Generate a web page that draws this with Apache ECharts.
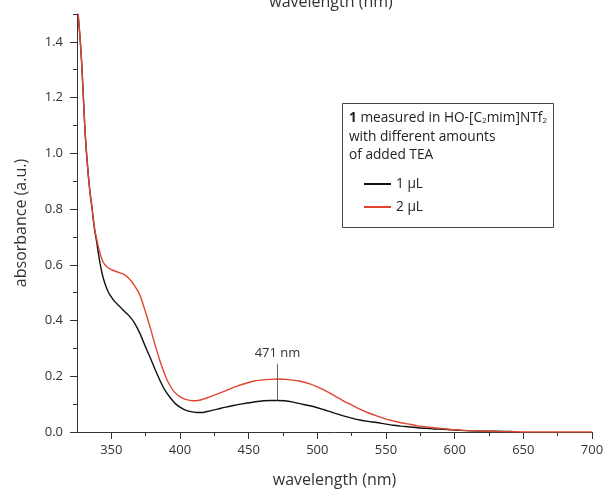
<!DOCTYPE html>
<html>
<head>
<meta charset="utf-8">
<script src="https://cdn.jsdelivr.net/npm/echarts@6/dist/echarts.min.js"></script>
<style>
  html, body { margin: 0; padding: 0; background: #fff; }
  #chart { width: 606px; height: 490px; }
</style>
</head>
<body>
<div id="chart"></div>
<script>
// Absorption spectra, 1 µL of added TEA
var wl1 = [325.8, 327.3, 328.5, 329.7, 330.9, 332.1, 333.3, 334.5, 335.8, 336.9, 338, 339.4, 340.6, 341.8, 343, 344.2, 346.5, 349.1, 352.5, 356.4, 360, 363.6, 367, 370.9, 374.5, 378.2, 381.8, 385.5, 389, 392.8, 397, 402.4, 407, 412.2, 416, 421.9, 428, 434, 440, 446.1, 453, 460.7, 466, 471, 476, 482.5, 488, 494.6, 500, 506.8, 513, 518.9, 525, 531, 537, 543.2, 549, 555.3, 561, 567.4, 573, 579.6, 585, 591.7, 597, 603.8, 612, 620, 630, 642];
var abs1 = [1.50, 1.41, 1.315, 1.195, 1.075, 0.99, 0.918, 0.858, 0.81, 0.762, 0.72, 0.68, 0.64, 0.605, 0.575, 0.551, 0.517, 0.491, 0.468, 0.449, 0.431, 0.413, 0.39, 0.353, 0.31, 0.268, 0.225, 0.184, 0.15, 0.124, 0.1, 0.082, 0.074, 0.07, 0.07, 0.076, 0.083, 0.09, 0.096, 0.102, 0.107, 0.112, 0.113, 0.113, 0.112, 0.107, 0.101, 0.094, 0.087, 0.077, 0.067, 0.058, 0.05, 0.043, 0.038, 0.034, 0.029, 0.024, 0.021, 0.018, 0.015, 0.013, 0.011, 0.01, 0.008, 0.006, 0.004, 0.003, 0.003, 0.002];

// Absorption spectra, 2 µL of added TEA
var wl2 = [325.8, 327.3, 328.5, 329.7, 330.9, 332.1, 333.3, 334.5, 335.8, 336.9, 338, 339.4, 341.8, 344, 346.7, 350, 354, 357, 360, 362.5, 364.9, 367.3, 369.7, 371.5, 373.3, 375.7, 378.2, 380.6, 383.1, 385.5, 387.9, 390.3, 392.8, 396, 400, 404, 409.7, 414, 419.5, 425, 431.6, 436, 441.3, 447, 453.4, 459, 465.5, 471, 479, 487, 494.6, 500, 506.8, 513, 518.9, 525, 531, 537, 543.2, 549, 555.3, 561, 567.4, 573, 579.6, 585, 591.7, 597, 603.8, 610, 620, 630, 642, 650, 660, 680, 700];
var abs2 = [1.50, 1.41, 1.315, 1.195, 1.075, 0.99, 0.918, 0.858, 0.81, 0.762, 0.725, 0.69, 0.641, 0.61, 0.593, 0.583, 0.575, 0.57, 0.563, 0.553, 0.539, 0.522, 0.503, 0.482, 0.455, 0.418, 0.377, 0.334, 0.292, 0.254, 0.22, 0.19, 0.166, 0.143, 0.127, 0.117, 0.112, 0.114, 0.122, 0.132, 0.145, 0.154, 0.164, 0.173, 0.182, 0.186, 0.189, 0.19, 0.188, 0.183, 0.173, 0.162, 0.146, 0.129, 0.112, 0.097, 0.082, 0.069, 0.058, 0.048, 0.04, 0.033, 0.028, 0.022, 0.018, 0.015, 0.012, 0.009, 0.007, 0.005, 0.003, 0.002, 0.001, 0, 0, 0, 0];

// Axis ticks and labels
var xMajor = [350, 400, 450, 500, 550, 600, 650, 700];
var xMinor = [375, 425, 475, 525, 575, 625, 675];
var yMajor = [0, 0.2, 0.4, 0.6, 0.8, 1.0, 1.2, 1.4];
var yMinor = [0.1, 0.3, 0.5, 0.7, 0.9, 1.1, 1.3, 1.5];

// Band maximum marker
var peakWl = 471;
var peakAbs = 0.113;
var peakLabelTop = 0.245;

function zip(xs, ys) {
  return xs.map(function (x, i) { return [x, ys[i]]; });
}

var FONT = '"Open Sans", "Noto Sans", sans-serif';
var AXIS = '#333';
var BOX_FONT = '13.7px ' + FONT;

var chart = echarts.init(document.getElementById('chart'), null, { renderer: 'canvas' });

chart.setOption({
  animation: false,
  backgroundColor: '#fff',
  textStyle: { fontFamily: FONT },
  grid: { left: 77, right: 14, top: 14, bottom: 58, containLabel: false, outerBoundsMode: 'none' },
  xAxis: [
    {
      type: 'value', min: 325, max: 700, position: 'bottom',
      name: 'wavelength (nm)', nameLocation: 'middle', nameGap: 40,
      nameTextStyle: { fontSize: 16, color: AXIS, fontFamily: FONT },
      axisLine: { show: true, lineStyle: { color: AXIS, width: 1 } },
      axisTick: { show: true, customValues: xMajor, length: 7, lineStyle: { color: AXIS } },
      axisLabel: { customValues: xMajor, fontSize: 13, color: AXIS, margin: 12, fontFamily: FONT },
      splitLine: { show: false }
    },
    {
      type: 'value', min: 325, max: 700, position: 'bottom',
      axisLine: { show: false },
      axisTick: { show: true, customValues: xMinor, length: 4, lineStyle: { color: AXIS } },
      axisLabel: { show: false },
      splitLine: { show: false }
    }
  ],
  yAxis: [
    {
      type: 'value', min: 0, max: 1.5, position: 'left',
      name: 'absorbance (a.u.)', nameLocation: 'middle', nameGap: 48,
      nameTextStyle: { fontSize: 16, color: AXIS, fontFamily: FONT },
      axisLine: { show: true, lineStyle: { color: AXIS, width: 1 } },
      axisTick: { show: true, customValues: yMajor, length: 7, lineStyle: { color: AXIS } },
      axisLabel: {
        customValues: yMajor, fontSize: 13, color: AXIS, margin: 14, fontFamily: FONT,
        formatter: function (v) { return v.toFixed(1); }
      },
      splitLine: { show: false }
    },
    {
      type: 'value', min: 0, max: 1.5, position: 'left', offset: 0,
      axisLine: { show: false },
      axisTick: { show: true, customValues: yMinor, length: 4, lineStyle: { color: AXIS } },
      axisLabel: { show: false },
      splitLine: { show: false }
    }
  ],
  legend: {
    data: ['1 µL', '2 µL'],
    orient: 'vertical',
    left: 358, top: 172,
    itemWidth: 27, itemHeight: 14, itemGap: 9,
    itemStyle: { opacity: 0 },
    textStyle: { fontSize: 13.7, color: '#222', fontFamily: FONT }
  },
  series: [
    {
      name: '1 µL', type: 'line', xAxisIndex: 0, yAxisIndex: 0,
      data: zip(wl1, abs1), showSymbol: false, symbol: 'none', smooth: 0.2,
      lineStyle: { color: '#111', width: 1.4 }, itemStyle: { color: '#111' },
      markLine: {
        silent: true, symbol: 'none',
        lineStyle: { color: '#666', width: 1, type: 'solid' },
        label: { show: true, position: 'end', formatter: peakWl + ' nm', fontSize: 13, color: AXIS, distance: 4, fontFamily: FONT },
        data: [[{ coord: [peakWl, peakAbs] }, { coord: [peakWl, peakLabelTop] }]]
      }
    },
    {
      name: '2 µL', type: 'line', xAxisIndex: 0, yAxisIndex: 0,
      data: zip(wl2, abs2), showSymbol: false, symbol: 'none', smooth: 0.2,
      lineStyle: { color: '#e0452f', width: 1.4 }, itemStyle: { color: '#e0452f' }
    }
  ],
  graphic: [
    {
      type: 'rect', z: 1,
      shape: { x: 342.5, y: 103.5, width: 211, height: 124 },
      style: { fill: 'none', stroke: '#444', lineWidth: 1 }
    },
    {
      type: 'text', z: 5, left: 349, top: 111,
      style: {
        text: '{b|1} measured in HO-[C{s|2}mim]NTf{s|2}',
        font: BOX_FONT, fill: '#222',
        rich: {
          b: { fontWeight: 'bold', fontSize: 13.7, fill: '#222', fontFamily: FONT },
          s: { fontSize: 8, fill: '#222', fontFamily: FONT, padding: [6, 0, 0, 0] }
        }
      }
    },
    {
      type: 'text', z: 5, left: 349, top: 130,
      style: { text: 'with different amounts', font: BOX_FONT, fill: '#222' }
    },
    {
      type: 'text', z: 5, left: 349, top: 148,
      style: { text: 'of added TEA', font: BOX_FONT, fill: '#222' }
    },
    {
      type: 'text', z: 5, x: 331, y: 2,
      style: { text: 'wavelength (nm)', font: '16px ' + FONT, fill: AXIS, align: 'center', verticalAlign: 'middle' }
    }
  ]
});
</script>
</body>
</html>
